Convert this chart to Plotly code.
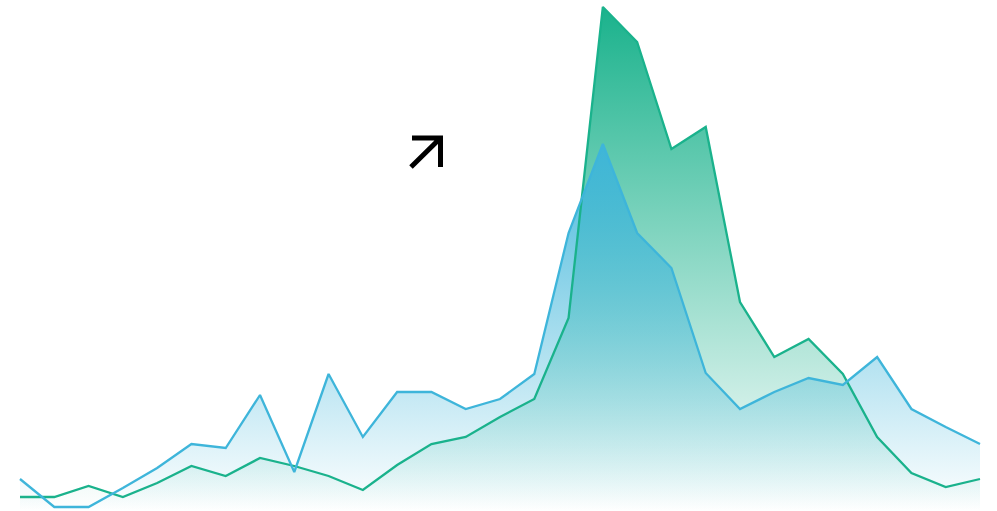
import plotly.graph_objects as go

# ---- data ----
points = list(range(29))
blue_values = [32, 4, 4, 23, 43, 67, 63, 116, 39, 137, 74, 119, 119, 102, 112, 137,
               278, 367, 278, 243, 138, 102, 119, 133, 126, 154, 102, 84, 67]
green_values = [14, 14, 25, 14, 28, 45, 35, 53, 45, 35, 21, 46, 67, 74, 94, 112,
                193, 504, 469, 362, 384, 209, 154, 172, 137, 74, 38, 24, 32]

GREEN = "26,178,140"
BLUE = "62,181,218"

W, H = 997, 511

fig = go.Figure()

# fills
fig.add_trace(go.Scatter(
    x=points, y=green_values, mode="lines", fill="tozeroy",
    line=dict(width=0, color=f"rgba({GREEN},0)"),
    fillgradient=dict(type="vertical", start=0, stop=max(green_values),
                      colorscale=[[0, f"rgba({GREEN},0)"], [1, f"rgba({GREEN},1)"]]),
    hoverinfo="skip", showlegend=False))
fig.add_trace(go.Scatter(
    x=points, y=blue_values, mode="lines", fill="tozeroy",
    line=dict(width=0, color=f"rgba({BLUE},0)"),
    fillgradient=dict(type="vertical", start=0, stop=max(blue_values),
                      colorscale=[[0, f"rgba({BLUE},0)"], [1, f"rgba({BLUE},0.95)"]]),
    hoverinfo="skip", showlegend=False))

# lines
fig.add_trace(go.Scatter(x=points, y=green_values, mode="lines",
                         line=dict(width=2.3, color=f"rgb({GREEN})"), showlegend=False))
fig.add_trace(go.Scatter(x=points, y=blue_values, mode="lines",
                         line=dict(width=2.3, color=f"rgb({BLUE})"), showlegend=False))

# arrow icon (decoration) in paper coords
def px(x):
    return x / W

def py(y):
    return 1 - y / H

arrow_path = (f"M {px(411)} {py(167)} L {px(440.5)} {py(138)} "
              f"M {px(412)} {py(138)} L {px(440.5)} {py(138)} L {px(440.5)} {py(167)}")
fig.add_shape(type="path", path=arrow_path, xref="paper", yref="paper",
              line=dict(color="black", width=5))

step = 960 / 28
fig.update_layout(
    width=W, height=H,
    margin=dict(l=0, r=0, t=0, b=0),
    paper_bgcolor="white", plot_bgcolor="white",
    xaxis=dict(range=[-20 / step, 28 + 17 / step], visible=False, showgrid=False, zeroline=False),
    yaxis=dict(range=[0, 511], visible=False, showgrid=False, zeroline=False),
)

fig.write_html("out.html")
